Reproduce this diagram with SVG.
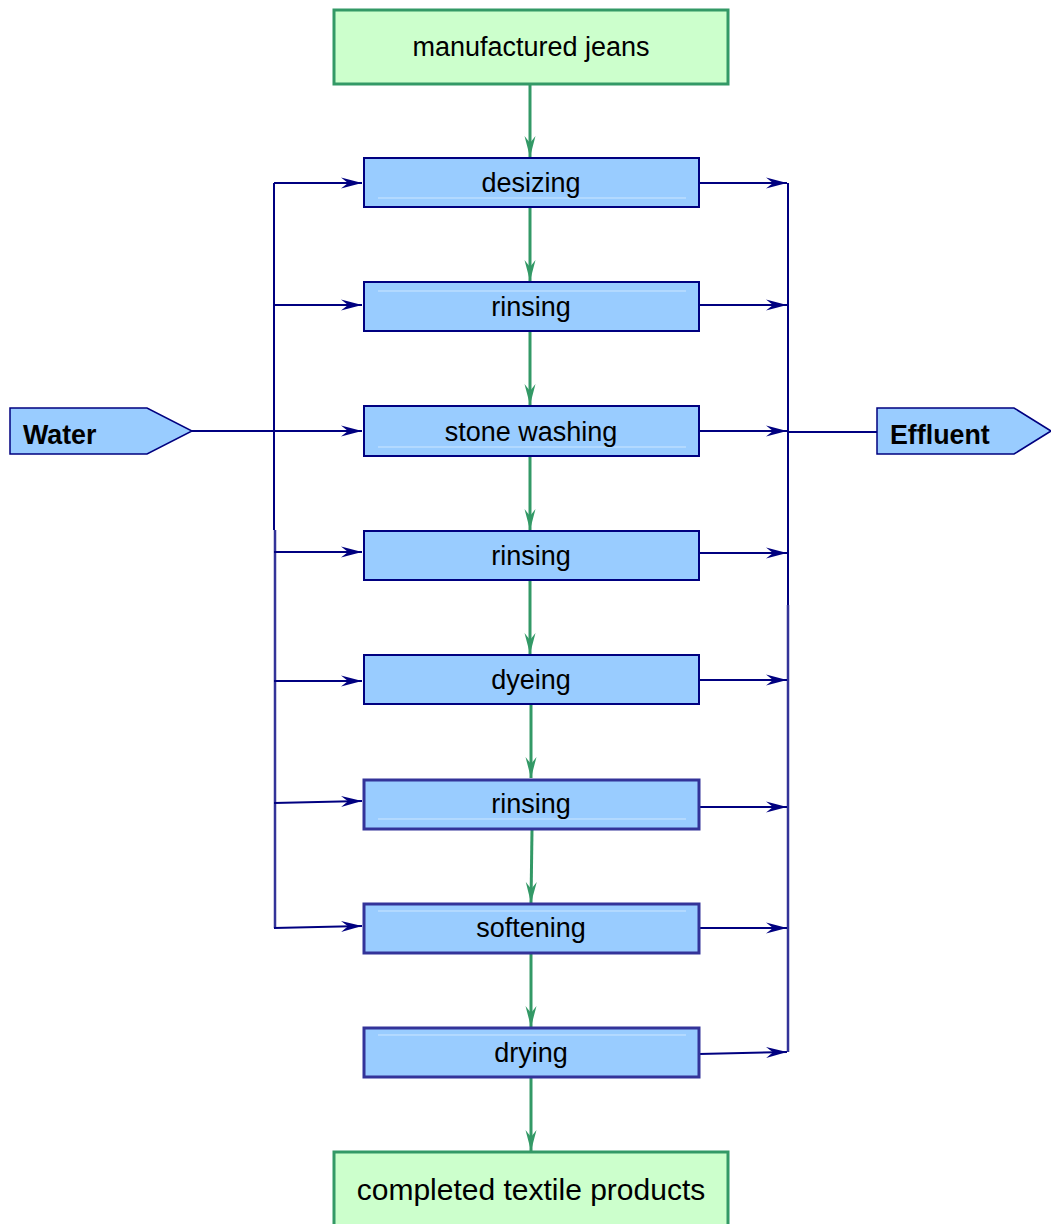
<svg xmlns="http://www.w3.org/2000/svg" width="1051" height="1224" viewBox="0 0 1051 1224">
  <style>
    .terminal { fill: #ccffcc; stroke: #339966; stroke-width: 3; }
    .step { fill: #99ccff; stroke: #000080; stroke-width: 2; }
    .step2 { fill: #99ccff; stroke: #333399; stroke-width: 3; }
    .port { fill: #99ccff; stroke: #000080; stroke-width: 1.5; }
    .shine { stroke: #cce6ff; stroke-width: 1; }
    .label { font-family: "Liberation Sans", Arial, sans-serif; font-size: 27px; fill: #000; text-anchor: middle; }
    .big { font-size: 30px; }
    .portlabel { font-family: "Liberation Sans", Arial, sans-serif; font-size: 26.8px; font-weight: bold; fill: #000; }
    .flow { stroke: #339966; stroke-width: 3; fill: none; marker-end: url(#greenHead); }
    .water { stroke: #000080; stroke-width: 2; fill: none; }
    .water2 { stroke: #333399; stroke-width: 2.5; fill: none; }
    .branch { stroke: #000080; stroke-width: 2; fill: none; marker-end: url(#blueHead); }
  </style>
  <defs>
    <marker id="greenHead" markerUnits="userSpaceOnUse" markerWidth="24" markerHeight="14" refX="21" refY="7" orient="auto">
      <path d="M0,1.5 L21,7 L0,12.5 L7,7 Z" fill="#339966"/>
    </marker>
    <marker id="blueHead" markerUnits="userSpaceOnUse" markerWidth="24" markerHeight="14" refX="21" refY="7" orient="auto">
      <path d="M0,1.5 L21,7 L0,12.5 L7,7 Z" fill="#000080"/>
    </marker>
  </defs>

  <g id="connectors">
    <!-- main process line -->
    <line class="flow" x1="530" y1="85" x2="530" y2="157"/>
    <line class="flow" x1="530" y1="208" x2="530" y2="281"/>
    <line class="flow" x1="530" y1="332" x2="530" y2="405"/>
    <line class="flow" x1="530" y1="457" x2="530" y2="530"/>
    <line class="flow" x1="530" y1="581" x2="530" y2="654"/>
    <line class="flow" x1="531" y1="705" x2="531" y2="778"/>
    <line class="flow" x1="532" y1="830" x2="531" y2="903"/>
    <line class="flow" x1="531" y1="954" x2="531" y2="1027"/>
    <line class="flow" x1="531" y1="1078" x2="531" y2="1151"/>

    <!-- water supply manifold -->
    <line class="water" x1="192" y1="431" x2="274" y2="431"/>
    <line class="water" x1="274" y1="183" x2="274" y2="530"/>
    <line class="water2" x1="275" y1="530" x2="275" y2="928"/>
    <line class="branch" x1="274" y1="183" x2="362" y2="183"/>
    <line class="branch" x1="274" y1="305" x2="362" y2="305"/>
    <line class="branch" x1="274" y1="431" x2="362" y2="431"/>
    <line class="branch" x1="274" y1="552" x2="362" y2="552"/>
    <line class="branch" x1="274" y1="681" x2="362" y2="681"/>
    <line class="branch" x1="274" y1="803" x2="362" y2="801"/>
    <line class="branch" x1="274" y1="928" x2="362" y2="926"/>

    <!-- effluent collector -->
    <line class="water" x1="788" y1="183" x2="788" y2="605"/>
    <line class="water2" x1="788" y1="605" x2="788" y2="1052"/>
    <line class="water" x1="788" y1="432" x2="877" y2="432"/>
    <line class="branch" x1="699" y1="183" x2="787" y2="183"/>
    <line class="branch" x1="699" y1="305" x2="787" y2="305"/>
    <line class="branch" x1="699" y1="431" x2="787" y2="431"/>
    <line class="branch" x1="699" y1="553" x2="787" y2="553"/>
    <line class="branch" x1="699" y1="680" x2="787" y2="680"/>
    <line class="branch" x1="699" y1="807" x2="787" y2="807"/>
    <line class="branch" x1="699" y1="928" x2="787" y2="928"/>
    <line class="branch" x1="699" y1="1054" x2="787" y2="1052"/>
  </g>

  <g id="node-jeans">
    <rect class="terminal" x="334" y="10" width="394" height="74"/>
    <text class="label" x="531" y="56">manufactured jeans</text>
  </g>

  <g id="node-desizing">
    <rect class="step" x="364" y="158" width="335" height="49"/>
    <line class="shine" x1="378" y1="198" x2="686" y2="198"/>
    <text class="label" x="531" y="192">desizing</text>
  </g>

  <g id="node-rinsing-1">
    <rect class="step" x="364" y="282" width="335" height="49"/>
    <line class="shine" x1="378" y1="291" x2="686" y2="291"/>
    <text class="label" x="531" y="316">rinsing</text>
  </g>

  <g id="node-stone-washing">
    <rect class="step" x="364" y="406" width="335" height="50"/>
    <line class="shine" x1="378" y1="447" x2="686" y2="447"/>
    <text class="label" x="531" y="441">stone washing</text>
  </g>

  <g id="node-rinsing-2">
    <rect class="step" x="364" y="531" width="335" height="49"/>
    <text class="label" x="531" y="565">rinsing</text>
  </g>

  <g id="node-dyeing">
    <rect class="step" x="364" y="655" width="335" height="49"/>
    <text class="label" x="531" y="689">dyeing</text>
  </g>

  <g id="node-rinsing-3">
    <rect class="step2" x="364" y="780" width="335" height="49"/>
    <line class="shine" x1="378" y1="819" x2="686" y2="819"/>
    <text class="label" x="531" y="813">rinsing</text>
  </g>

  <g id="node-softening">
    <rect class="step2" x="364" y="904" width="335" height="49"/>
    <line class="shine" x1="378" y1="911" x2="686" y2="911"/>
    <text class="label" x="531" y="937">softening</text>
  </g>

  <g id="node-drying">
    <rect class="step2" x="364" y="1028" width="335" height="49"/>
    <line class="shine" x1="378" y1="1035" x2="686" y2="1035"/>
    <text class="label" x="531" y="1062">drying</text>
  </g>

  <g id="node-products">
    <rect class="terminal" x="334" y="1152" width="394" height="80"/>
    <text class="label big" x="531" y="1200">completed textile products</text>
  </g>

  <g id="node-water">
    <polygon class="port" points="10,408 147,408 192,431 147,454 10,454"/>
    <text class="portlabel" x="23" y="444">Water</text>
  </g>

  <g id="node-effluent">
    <polygon class="port" points="877,408 1014,408 1051,431 1014,454 877,454"/>
    <text class="portlabel" x="890" y="444">Effluent</text>
  </g>
</svg>
